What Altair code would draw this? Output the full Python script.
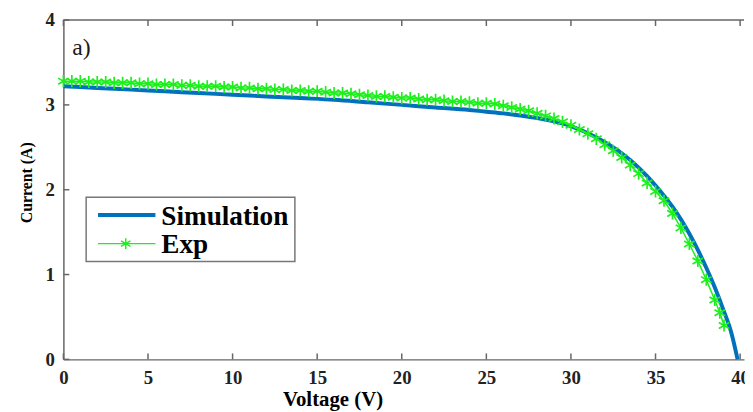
import altair as alt
import pandas as pd

# ---- data ----
sim_v = [0, 2, 4, 6, 8, 10, 12, 14, 16, 18, 20, 22, 24, 25, 26, 27, 28, 29, 30,
         30.5, 31, 31.5, 32, 32.5, 33, 33.5, 34, 34.5, 35, 35.5, 36, 36.5, 37, 37.5,
         38, 38.5, 39, 39.5, 39.85]
sim_i = [3.22, 3.20, 3.18, 3.16, 3.14, 3.12, 3.10, 3.08, 3.06, 3.03, 3.00, 2.97, 2.94,
         2.92, 2.90, 2.875, 2.845, 2.805, 2.75, 2.71, 2.665, 2.615, 2.56, 2.50, 2.43,
         2.35, 2.26, 2.16, 2.05, 1.93, 1.80, 1.65, 1.48, 1.29, 1.08, 0.85, 0.59, 0.30,
         0.0]

exp_v = [0, 0.5, 1, 1.5, 2, 2.5, 3, 3.5, 4, 4.5, 5, 5.5, 6, 6.5, 7, 7.5, 8, 8.5, 9, 9.5,
         10, 10.5, 11, 11.5, 12, 12.5, 13, 13.5, 14, 14.5, 15, 15.5, 16, 16.5, 17, 17.5,
         18, 18.5, 19, 19.5, 20, 20.5, 21, 21.5, 22, 22.5, 23, 23.5, 24, 24.5, 25, 25.5,
         26, 26.5, 27, 27.5, 28, 28.5, 29, 29.5, 30, 30.5, 31, 31.5, 32, 32.5, 33, 33.5,
         34, 34.5, 35, 35.5, 36, 36.5, 37, 37.5, 38, 38.5, 38.8, 39.05]
exp_i = [3.28, 3.28, 3.28, 3.27, 3.27, 3.27, 3.26, 3.26, 3.26, 3.25, 3.25, 3.24, 3.24,
         3.24, 3.23, 3.23, 3.22, 3.22, 3.22, 3.21, 3.21, 3.20, 3.20, 3.19, 3.19, 3.18,
         3.18, 3.17, 3.17, 3.16, 3.16, 3.15, 3.14, 3.14, 3.13, 3.12, 3.11, 3.10, 3.10,
         3.09, 3.08, 3.08, 3.07, 3.06, 3.06, 3.05, 3.04, 3.04, 3.03, 3.02, 3.02, 3.01,
         2.99, 2.97, 2.95, 2.93, 2.90, 2.87, 2.84, 2.80, 2.76, 2.71, 2.66, 2.60, 2.53,
         2.46, 2.38, 2.29, 2.19, 2.08, 1.98, 1.87, 1.72, 1.55, 1.36, 1.16, 0.94, 0.70,
         0.55, 0.40]

x_ticks = [0, 5, 10, 15, 20, 25, 30, 35, 40]
y_ticks = [0, 1, 2, 3, 4]
legend_labels = ["Simulation", "Exp"]
panel_label = "a)"

BLUE = "#0072BD"
GREEN = "#1cf01c"
AXC = "#666666"
W, H = 688, 343
SERIF = "Liberation Serif"
STAR = "M0,-1L0,1M-0.87,-0.5L0.87,0.5M-0.87,0.5L0.87,-0.5"

sim_df = pd.DataFrame({"V": sim_v, "I": sim_i})
exp_df = pd.DataFrame({"V": exp_v, "I": exp_i})
xt_df = pd.DataFrame({"V": x_ticks})
yt_df = pd.DataFrame({"I": y_ticks})
one = pd.DataFrame({"k": [0]})

xs = alt.Scale(domain=[0, 40.23], nice=False, zero=False)
ys = alt.Scale(domain=[0, 4], nice=False)

x_axis = alt.Axis(title="Voltage (V)", values=x_ticks, ticks=False, grid=False,
                  labelFlush=False, labelOverlap=False, labelPadding=9,
                  titleX=272, titleY=47, titleAlign="center",
                  titleBaseline="alphabetic")
y_axis = alt.Axis(title="Current (A)", values=y_ticks, ticks=False, grid=False,
                  labelOverlap=False, labelFlush=False, labelPadding=9,
                  titleX=-32, titleY=164, titleAlign="center",
                  titleBaseline="alphabetic", titleAngle=-90, titleFontSize=16)


def X():
    return alt.X("V:Q", scale=xs, axis=x_axis)


def Y():
    return alt.Y("I:Q", scale=ys, axis=y_axis)


sim = alt.Chart(sim_df).mark_line(color=BLUE, strokeWidth=4, interpolate="monotone").encode(
    x=X(), y=Y())
exp_line = alt.Chart(exp_df).mark_line(color=GREEN, strokeWidth=1.5).encode(x=X(), y=Y())
exp_pts = alt.Chart(exp_df).mark_point(shape=STAR, size=150, filled=False, color=GREEN,
                                       strokeWidth=1.7, opacity=1).encode(x=X(), y=Y())

top_border = alt.Chart(one).mark_rule(color=AXC, strokeWidth=1.5).encode(
    x=alt.value(0), x2=alt.value(W), y=alt.value(0))
tick_bottom = alt.Chart(xt_df).mark_rule(color=AXC, strokeWidth=1.5).encode(
    x=X(), y=alt.value(H), y2=alt.value(H - 6))
tick_top = alt.Chart(xt_df).mark_rule(color=AXC, strokeWidth=1.5).encode(
    x=X(), y=alt.value(0), y2=alt.value(6))
tick_left = alt.Chart(yt_df).mark_rule(color=AXC, strokeWidth=1.5).encode(
    y=Y(), x=alt.value(0), x2=alt.value(6))

leg_box = alt.Chart(one).mark_rect(fill="white", stroke="#777777", strokeWidth=1.5).encode(
    x=alt.value(23), x2=alt.value(234), y=alt.value(179), y2=alt.value(244))
leg_sim_line = alt.Chart(one).mark_rule(color=BLUE, strokeWidth=4).encode(
    x=alt.value(35), x2=alt.value(93), y=alt.value(197))
leg_exp_line = alt.Chart(one).mark_rule(color=GREEN, strokeWidth=1.2).encode(
    x=alt.value(35), x2=alt.value(93), y=alt.value(226))
leg_exp_pt = alt.Chart(one).mark_point(shape=STAR, size=120, filled=False, color=GREEN,
                                       strokeWidth=1.5, opacity=1).encode(
    x=alt.value(63), y=alt.value(226))
leg_sim_text = alt.Chart(pd.DataFrame({"label": [legend_labels[0]]})).mark_text(
    font=SERIF, fontWeight="bold", fontSize=27.5, align="left", baseline="alphabetic",
    color="#000000").encode(x=alt.value(99), y=alt.value(207), text="label:N")
leg_exp_text = alt.Chart(pd.DataFrame({"label": [legend_labels[1]]})).mark_text(
    font=SERIF, fontWeight="bold", fontSize=27.5, align="left", baseline="alphabetic",
    color="#000000").encode(x=alt.value(99), y=alt.value(235), text="label:N")

panel = alt.Chart(pd.DataFrame({"label": [panel_label]})).mark_text(
    font=SERIF, fontSize=24, align="left", baseline="alphabetic", color="#1a1a1a").encode(
    x=alt.value(9), y=alt.value(35), text="label:N")

chart = alt.layer(
    sim, exp_line, exp_pts, top_border, tick_bottom, tick_top, tick_left,
    leg_box, leg_sim_line, leg_exp_line, leg_exp_pt, leg_sim_text, leg_exp_text, panel,
).properties(
    width=W, height=H,
    padding={"left": 56, "top": 10, "right": 1, "bottom": 50},
    autosize=alt.AutoSizeParams(type="none"),
).configure_view(stroke=None).configure_axis(
    domainColor=AXC, domainWidth=1.5,
    labelFont=SERIF, labelFontSize=19, labelFontWeight="bold", labelColor="#222222",
    titleFont=SERIF, titleFontSize=21, titleFontWeight="bold", titleColor="#000000",
)

chart.save("out.html", embed_options={"renderer": "svg", "actions": False})
